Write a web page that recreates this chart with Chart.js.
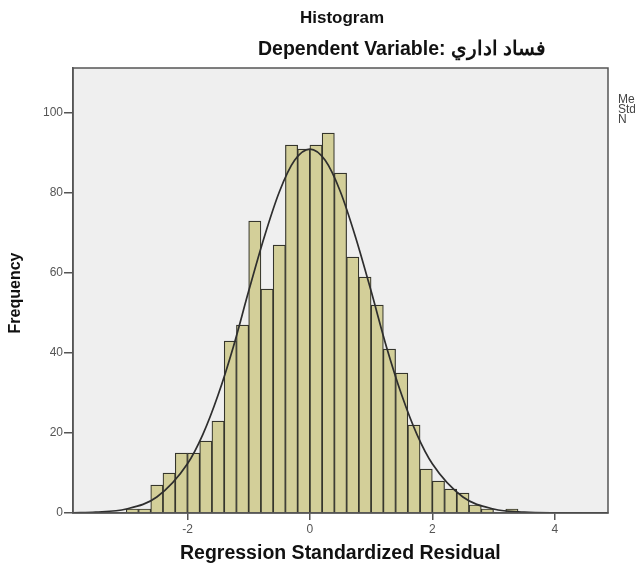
<!DOCTYPE html>
<html>
<head>
<meta charset="utf-8">
<script src="https://cdn.jsdelivr.net/npm/chart.js@4"></script>
<style>
  html, body { margin: 0; padding: 0; background: #fff; }
  canvas { display: block; }
</style>
</head>
<body>
<canvas id="chart" width="635" height="568"></canvas>
<script>
// histogram bins (width 0.2), centres and counts
const binCenters = [
  -2.9, -2.7, -2.5, -2.3, -2.1, -1.9, -1.7, -1.5, -1.3, -1.1,
  -0.9, -0.7, -0.5, -0.3, -0.1, 0.1, 0.3, 0.5, 0.7, 0.9,
  1.1, 1.3, 1.5, 1.7, 1.9, 2.1, 2.3, 2.5, 2.7, 2.9, 3.3,
];
const frequencies = [
  1, 1, 7, 10, 15, 15, 18, 23, 43, 47,
  73, 56, 67, 92, 91, 92, 95, 85, 64, 59,
  52, 41, 35, 22, 11, 8, 6, 5, 2, 1, 1,
];

// normal curve
const curveX = [
  -3.87, -3.5, -3, -2.5, -2, -1.75, -1.5, -1.25, -1, -0.75, -0.5, -0.25, 0,
  0.25, 0.5, 0.75, 1, 1.25, 1.5, 1.75, 2, 2.5, 3, 3.5, 4, 4.87,
];
const curveY = [
  0.05, 0.2, 1, 4, 12.3, 19.6, 29.5, 41.6, 55.5, 68.8, 80.3, 88.2, 91,
  88.2, 80.3, 68.8, 55.5, 41.6, 29.5, 19.6, 12.3, 4, 1, 0.2, 0.03, 0,
];

const xMin = -3.87;
const xMax = 4.87;
const yMax = 111.3;
const legendLines = ['Mean', 'Std. Dev.', 'N'];

const FONT = 'Liberation Sans, Arial, sans-serif';
const TICK_COLOR = '#555';
const AXIS_COLOR = '#555';

const plotFrame = {
  id: 'plotFrame',
  beforeDraw(chart) {
    const { ctx, chartArea: a } = chart;
    ctx.save();
    ctx.fillStyle = '#efefef';
    ctx.fillRect(a.left, a.top, a.right - a.left, a.bottom - a.top);
    ctx.restore();
  },
  afterDraw(chart) {
    const { ctx, chartArea: a } = chart;
    ctx.save();
    ctx.strokeStyle = AXIS_COLOR;
    ctx.lineWidth = 1.5;
    ctx.strokeRect(a.left, a.top, a.right - a.left, a.bottom - a.top);

    ctx.fillStyle = '#111';
    ctx.textBaseline = 'middle';
    ctx.font = `bold 17px ${FONT}`;
    ctx.textAlign = 'center';
    ctx.fillText('Histogram', 342, 18);
    ctx.font = `bold 19.5px ${FONT}`;
    ctx.textAlign = 'left';
    ctx.fillText('Dependent Variable: فساد اداري', 258, 50);

    ctx.fillText('Regression Standardized Residual', 180, 554);
    ctx.save();
    ctx.translate(16, 293);
    ctx.rotate(-Math.PI / 2);
    ctx.textAlign = 'center';
    ctx.font = `bold 16px ${FONT}`;
    ctx.fillText('Frequency', 0, 0);
    ctx.restore();

    ctx.font = `12px ${FONT}`;
    ctx.fillStyle = '#444';
    ctx.textAlign = 'left';
    legendLines.forEach((t, i) => ctx.fillText(t, 618, 100 + i * 10));
    ctx.restore();
  },
};

new Chart(document.getElementById('chart'), {
  data: {
    datasets: [
      {
        type: 'line',
        data: curveX.map((x, i) => ({ x, y: curveY[i] })),
        borderColor: '#2e2e2e',
        borderWidth: 1.7,
        pointRadius: 0,
        cubicInterpolationMode: 'monotone',
        order: 0,
      },
      {
        type: 'bar',
        data: binCenters.map((x, i) => ({ x, y: frequencies[i] })),
        backgroundColor: '#d3cf99',
        borderColor: '#35352c',
        borderWidth: 1.2,
        barPercentage: 1,
        categoryPercentage: 1,
        order: 1,
      },
    ],
  },
  options: {
    responsive: false,
    animation: false,
    layout: { padding: { top: 68, right: 27, left: 0, bottom: 0 } },
    plugins: {
      legend: { display: false },
      tooltip: { enabled: false },
    },
    scales: {
      x: {
        type: 'linear',
        min: xMin,
        max: xMax,
        offset: false,
        afterFit: (s) => { s.height = 55; },
        grid: {
          offset: false,
          drawOnChartArea: false,
          drawTicks: true,
          tickLength: 7,
          color: AXIS_COLOR,
          lineWidth: 1.5,
        },
        border: { display: true, color: AXIS_COLOR, width: 1.5 },
        ticks: {
          stepSize: 2,
          includeBounds: false,
          color: TICK_COLOR,
          font: { family: FONT, size: 12 },
          padding: 2,
          maxRotation: 0,
        },
      },
      y: {
        min: 0,
        max: yMax,
        afterFit: (s) => { s.width = 73; },
        grid: {
          drawOnChartArea: false,
          drawTicks: true,
          tickLength: 9,
          color: AXIS_COLOR,
          lineWidth: 1.5,
        },
        border: { display: true, color: AXIS_COLOR, width: 1.5 },
        ticks: {
          stepSize: 20,
          includeBounds: false,
          color: TICK_COLOR,
          font: { family: FONT, size: 12 },
          padding: 1,
        },
      },
    },
  },
  plugins: [plotFrame],
});
</script>
</body>
</html>
